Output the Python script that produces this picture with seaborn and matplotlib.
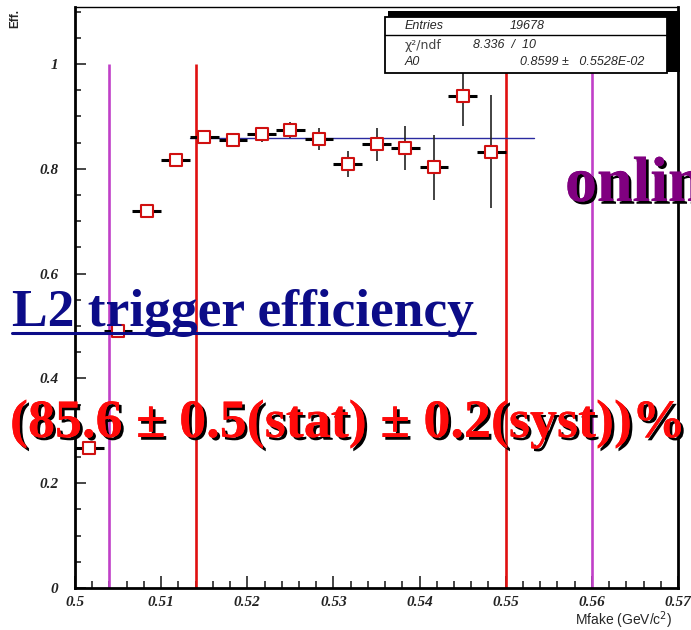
import numpy as np
import pandas as pd
import matplotlib
matplotlib.use("Agg")
import matplotlib.pyplot as plt
import matplotlib.patheffects as pe
from matplotlib.patches import Rectangle
from matplotlib.lines import Line2D
import seaborn as sns

# ---- data ----
mass = [0.50167, 0.50500, 0.50833, 0.51167, 0.51500, 0.51833, 0.52167, 0.52500,
        0.52833, 0.53167, 0.53500, 0.53833, 0.54167, 0.54500, 0.54833]
eff = [0.267, 0.490, 0.719, 0.817, 0.861, 0.856, 0.866, 0.874,
       0.857, 0.810, 0.847, 0.840, 0.803, 0.940, 0.833]
eff_err = [0.006, 0.008, 0.007, 0.008, 0.009, 0.010, 0.014, 0.016,
           0.021, 0.025, 0.031, 0.042, 0.062, 0.058, 0.108]
bin_half = 0.001667
fit_value = 0.8599
fit_range = [0.51333, 0.55333]
red_cuts = [0.514, 0.550]
magenta_cuts = [0.504, 0.560]
x_ticks = [0.5, 0.51, 0.52, 0.53, 0.54, 0.55, 0.56, 0.57]
x_tick_labels = ["0.5", "0.51", "0.52", "0.53", "0.54", "0.55", "0.56", "0.57"]
y_ticks = [0, 0.2, 0.4, 0.6, 0.8, 1.0]
y_tick_labels = ["0", "0.2", "0.4", "0.6", "0.8", "1"]
stats_rows = [("Entries", "19678"), ("χ²/ndf", "8.336  /  10"), ("A0", "0.8599 ±   0.5528E-02")]

df = pd.DataFrame({"mass": mass, "eff": eff, "err": eff_err})

sns.set_theme(style="white")
plt.rcParams["font.family"] = ["DejaVu Sans"]

fig = plt.figure(figsize=(6.91, 6.30), dpi=100)
ax = fig.add_axes([75/691, 42/630, 603/691, 581/630])

# cut lines
for c in magenta_cuts:
    ax.vlines(c, 0, 1.0, color="#c040c8", lw=1.9, zorder=2)
for c in red_cuts:
    ax.vlines(c, 0, 1.0, color="#e01010", lw=1.9, zorder=2)

# fit line
ax.plot(fit_range, [fit_value, fit_value], color="#2a2aa0", lw=1.0, zorder=3)

# error bars
ax.errorbar(df["mass"], df["eff"], yerr=df["err"], fmt="none", ecolor="#222222",
            elinewidth=1.2, capsize=0, zorder=4)
ax.errorbar(df["mass"], df["eff"], xerr=bin_half, fmt="none", ecolor="black",
            elinewidth=2.2, capsize=0, zorder=4)
sns.scatterplot(data=df, x="mass", y="eff", ax=ax, marker="s", s=85,
                facecolor="white", edgecolor="#d01010", linewidth=1.5, zorder=5)

ax.set_xlim(0.5, 0.57)
ax.set_ylim(0, 1.109)
ax.set_xlabel("")
ax.set_ylabel("")
ax.set_xticks(x_ticks)
ax.set_xticklabels(x_tick_labels)
ax.set_yticks(y_ticks)
ax.set_yticklabels(y_tick_labels)
ax.set_xticks(np.arange(0.5, 0.5701, 0.002), minor=True)
ax.set_yticks(np.arange(0, 1.11, 0.05), minor=True)
for lab in ax.get_xticklabels() + ax.get_yticklabels():
    lab.set_fontfamily("Liberation Serif")
    lab.set_fontweight("bold")
    lab.set_fontstyle("italic")
    lab.set_fontsize(11)
    lab.set_color("#222222")
ax.tick_params(axis="x", which="major", direction="in", length=9, width=1.2, pad=6,
               bottom=True, top=False)
ax.tick_params(axis="x", which="minor", direction="in", length=5, width=1.2,
               bottom=True, top=False)
ax.tick_params(axis="y", which="major", direction="in", length=8, width=1.2, pad=12,
               left=True, right=False)
ax.tick_params(axis="y", which="minor", direction="in", length=4, width=1.2,
               left=True, right=False)
for side in ["left", "bottom", "right"]:
    ax.spines[side].set_linewidth(2.0)
    ax.spines[side].set_color("black")
ax.spines["top"].set_linewidth(1.0)
ax.spines["top"].set_color("black")

# axis titles
fig.text(15/691, 1 - 18/630, "Eff.", rotation=90, ha="center", va="center",
         fontsize=8.5, fontweight="bold", family="Liberation Sans")
fig.text(672/691, 1 - 620/630, "Mfake (GeV/c$^{2}$)", ha="right", va="center",
         fontsize=10, family="Liberation Sans")

# stats box
def px(x, y):
    return x/691, 1 - y/630

fig.patches.append(Rectangle(px(388, 72), (680-388)/691, (72-11)/630,
                             transform=fig.transFigure, facecolor="black",
                             edgecolor="none", zorder=10))
fig.patches.append(Rectangle(px(385, 73), (667-385)/691, (73-17)/630,
                             transform=fig.transFigure, facecolor="white",
                             edgecolor="black", lw=1.3, zorder=11))
fig.lines.append(Line2D([385/691, 667/691], [1-35/630, 1-35/630],
                        transform=fig.transFigure, color="black", lw=1.0, zorder=12))
row_y = [26, 45, 62]
stat_font = dict(family="Liberation Sans", style="italic", fontsize=9, zorder=13,
                 va="center")
fig.text(*px(405, row_y[0]), stats_rows[0][0], **stat_font)
fig.text(*px(510, row_y[0]), stats_rows[0][1], **stat_font)
fig.text(*px(405, row_y[1]), stats_rows[1][0], family="DejaVu Sans", fontsize=9,
         color="#444444", zorder=13, va="center")
fig.text(*px(473, row_y[1]), stats_rows[1][1], **stat_font)
fig.text(*px(405, row_y[2]), stats_rows[2][0], **stat_font)
fig.text(*px(520, row_y[2]), stats_rows[2][1], **stat_font)

# overlay texts
shadow = [pe.withSimplePatchShadow(offset=(2, -2), shadow_rgbFace="black", alpha=1.0),
          pe.Normal()]
fig.text(12/691, 1 - 326/630, "L2 trigger efficiency", color="#0c0c88",
         fontsize=38.5, fontweight="bold", family="Liberation Serif",
         ha="left", va="baseline", zorder=20)
fig.lines.append(Line2D([12/691, 475/691], [1-333/630, 1-333/630],
                        transform=fig.transFigure, color="#0c0c88", lw=2.2, zorder=20))
fig.text(10/691, 1 - 437/630, "(85.6 ± 0.5(stat) ± 0.2(syst))%", color="#ff0a0a",
         fontsize=38.9, fontweight="bold", family="Liberation Serif",
         ha="left", va="baseline", zorder=20, path_effects=shadow)
fig.text(565/691, 1 - 201/630, "online", color="#800080",
         fontsize=46, fontweight="bold", family="Liberation Serif",
         ha="left", va="baseline", zorder=20, path_effects=shadow)

fig.savefig("out.png", dpi=100)
